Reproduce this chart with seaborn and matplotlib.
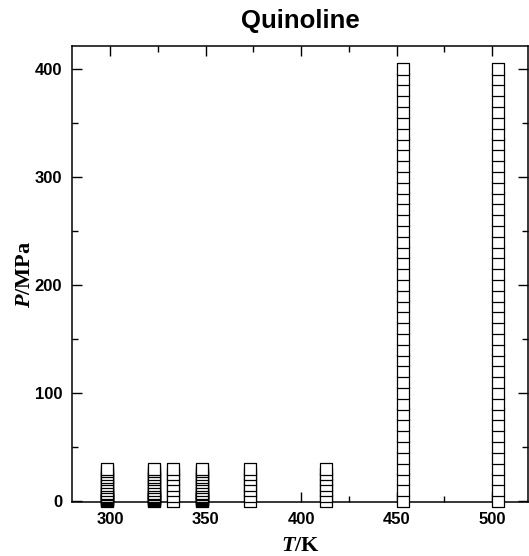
import numpy as np
import pandas as pd
import matplotlib
matplotlib.use("Agg")
import matplotlib.pyplot as plt
import seaborn as sns
from matplotlib.ticker import MultipleLocator

# ---- data ----
T_dense = [298.15, 323.15, 348.15]          # many low-pressure points
T_open = [333.15, 373.15, 413.15]           # sparse low-pressure points
T_high = [453.15, 503.15]                   # up to 400 MPa

P_dense = [0.1, 0.5, 1, 2, 3, 4, 5, 6, 7.5, 10, 12.5, 15, 17.5, 20, 22.5, 25, 27.5, 30]
P_open = [0.1, 5, 10, 15, 20, 25, 30]
P_high = [0.1, 10, 20, 30, 40, 50, 60, 70, 80, 90, 100, 110, 120, 130, 140, 150,
          160, 170, 180, 190, 200, 210, 220, 230, 240, 250, 260, 270, 280, 290,
          300, 310, 320, 330, 340, 350, 360, 370, 380, 390, 400]

title = "Quinoline"
xticks = [300, 350, 400, 450, 500]
yticks = [0, 100, 200, 300, 400]

rows = []
for Ts, Ps in ((T_dense, P_dense), (T_open, P_open), (T_high, P_high)):
    for T in Ts:
        for P in Ps:
            rows.append((T, P))
df = pd.DataFrame(rows, columns=["T", "P"])

sns.set_theme(style="ticks")
plt.rcParams["font.family"] = ["Liberation Sans", "DejaVu Sans"]
plt.rcParams["mathtext.fontset"] = "custom"
plt.rcParams["mathtext.it"] = "Liberation Serif:italic:bold"
plt.rcParams["mathtext.rm"] = "Liberation Serif:bold"
plt.rcParams["text.color"] = "black"
plt.rcParams["axes.labelcolor"] = "black"
plt.rcParams["xtick.color"] = "black"
plt.rcParams["ytick.color"] = "black"

fig = plt.figure(figsize=(5.29, 5.56), dpi=100)
ax = fig.add_axes([72 / 529, 1 - 502 / 556, (528 - 72) / 529, (502 - 46) / 556])

sns.scatterplot(data=df, x="T", y="P", ax=ax, marker="s", s=70,
                facecolor="white", edgecolor="black", linewidth=0.9,
                clip_on=False, zorder=3, legend=False)

ax.set_xlim(280, 518.8)
ax.set_ylim(-1, 421)
ax.set_xticks(xticks)
ax.set_yticks(yticks)
ax.xaxis.set_minor_locator(MultipleLocator(25))
ax.yaxis.set_minor_locator(MultipleLocator(50))
ax.tick_params(which="both", direction="in", top=True, right=True,
               width=1.0, color="black", labelcolor="black")
ax.tick_params(which="major", length=7, labelsize=12, pad=7)
ax.tick_params(which="minor", length=4)
for lab in ax.get_xticklabels() + ax.get_yticklabels():
    lab.set_fontweight("bold")
for sp in ax.spines.values():
    sp.set_linewidth(1.1)
    sp.set_color("black")

ax.set_xlabel(r"$T$/K", fontsize=16, fontweight="bold", color="black",
              fontfamily="Liberation Serif", labelpad=7)
ax.set_ylabel(r"$P$/MPa", fontsize=16, fontweight="bold", color="black",
              fontfamily="Liberation Serif", labelpad=0)
ax.set_title(title, fontsize=18.5, fontweight="bold", color="black", pad=13)

fig.savefig("out.png", dpi=100, facecolor="white")
